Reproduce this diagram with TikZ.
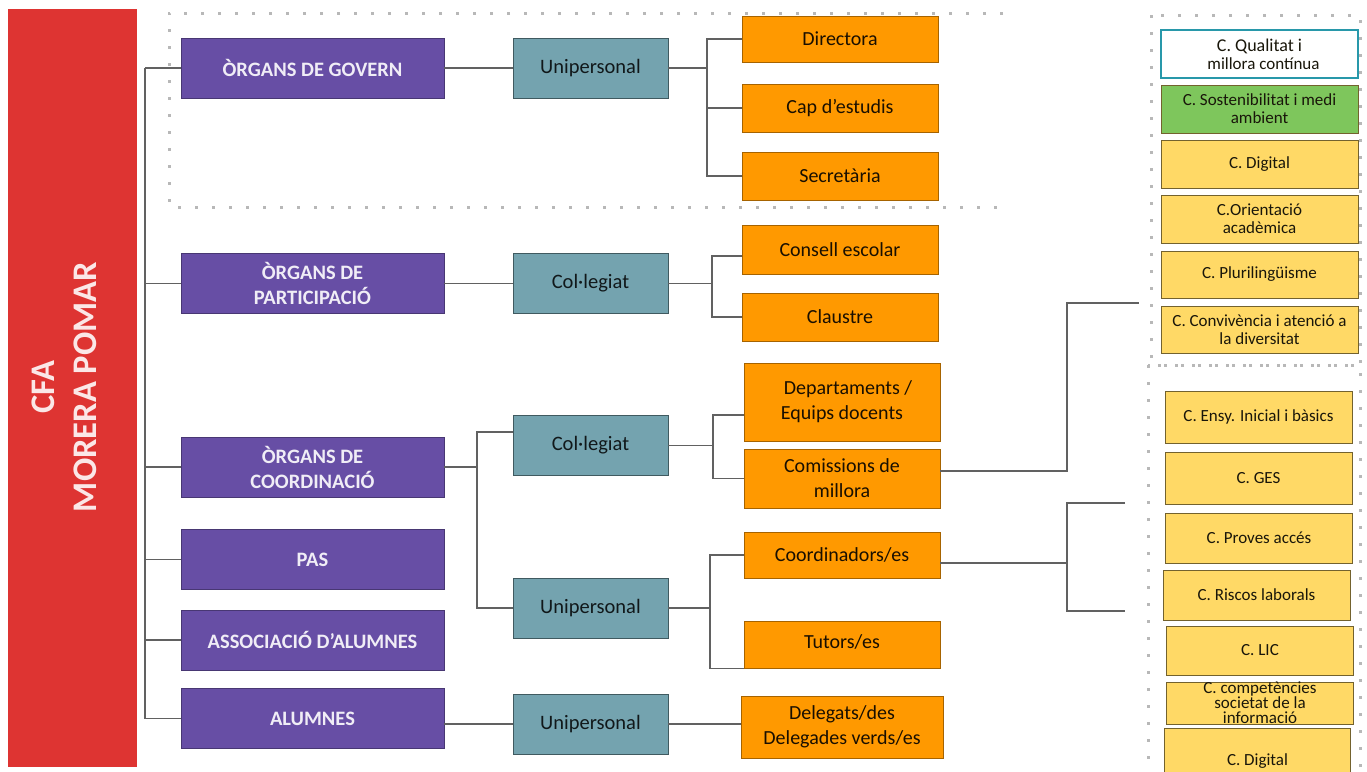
\documentclass[tikz,border=0pt]{standalone}
\usepackage{fontspec}
\setmainfont{Carlito}
\usepackage{xcolor}
\usepackage{tikz}

\definecolor{vermell}{RGB}{222,52,50}
\definecolor{lila}{RGB}{103,78,165}
\definecolor{blauverd}{RGB}{116,163,175}
\definecolor{taronja}{RGB}{255,153,0}
\definecolor{groc}{RGB}{255,217,102}
\definecolor{verd}{RGB}{126,198,92}
\definecolor{turquesa}{RGB}{40,152,170}

\tikzset{
  organ/.style={fill=lila, draw=lila!70!black, line width=0.8pt, text=white!90!lila, font=\bfseries\fontsize{20.5}{25}\selectfont, minimum width=263pt, minimum height=60pt, inner sep=0pt, align=center},
  tipus/.style={fill=blauverd, draw=blauverd!55!black, line width=0.8pt, text=black!85!blauverd, font=\fontsize{20.5}{24}\selectfont, minimum width=155pt, minimum height=60pt, inner sep=0pt},
  carrec/.style={fill=taronja, draw=taronja!65!black, line width=0.8pt, text=black!90!taronja, font=\fontsize{20}{25}\selectfont, minimum width=196pt, inner sep=0pt, align=center},
  comissio/.style={fill=groc, draw=black!55!groc, line width=0.8pt, text=black!90!groc, font=\fontsize{17}{18}\selectfont, minimum width=197pt, minimum height=48pt, inner sep=0pt, align=center},
  linia/.style={draw=black!62, line width=1.3pt},
  puntejat/.style={draw=black!28, line width=3pt, dash pattern=on 3pt off 14pt}
}

\begin{document}
\begin{tikzpicture}[x=1pt, y=-1pt]
\useasboundingbox (0,0) rectangle (1367,771);
\clip (0,0) rectangle (1367,771);

% dotted frames
\draw[puntejat] (1003,13) -- (169,13) -- (169,207) -- (1003,207);
\draw[puntejat] (1151,15) rectangle (1360,365);
\draw[puntejat] (1148,365) rectangle (1360,800);

% centre
\node[fill=vermell, minimum width=129pt, minimum height=758pt, inner sep=0pt] (cfa) at (72.5,388) {};
\node[rotate=90, text=white!88!vermell, font=\bfseries\fontsize{34.5}{42}\selectfont, align=center] (nomcentre) at (64,387) {CFA\\MORERA POMAR};

% organs
\node[organ] (govern) at (312.5,68) {ÒRGANS DE GOVERN};
\node[organ] (participacio) at (312.5,283.5) {ÒRGANS DE\\PARTICIPACIÓ};
\node[organ] (coordinacio) at (312.5,467) {ÒRGANS DE\\COORDINACIÓ};
\node[organ] (pas) at (312.5,559.5) {PAS};
\node[organ] (associacio) at (312.5,640) {ASSOCIACIÓ D’ALUMNES};
\node[organ] (alumnes) at (312.5,718.5) {ALUMNES};

% unipersonal / collegiat
\node[tipus] (unip1) at (590.5,68) {Unipersonal};
\node[tipus] (col2) at (590.5,283.5) {Col·legiat};
\node[tipus] (col3) at (590.5,445.5) {Col·legiat};
\node[tipus] (unip4) at (590.5,608) {Unipersonal};
\node[tipus] (unip5) at (590.5,724) {Unipersonal};

% carrecs
\node[carrec, minimum height=46pt] (directora) at (840,39) {Directora};
\node[carrec, minimum height=48pt] (cap) at (840,108) {Cap d’estudis};
\node[carrec, minimum height=48pt] (secretaria) at (840,176) {Secretària};
\node[carrec, minimum height=49pt] (consell) at (840,249.5) {Consell escolar};
\node[carrec, minimum height=48pt] (claustre) at (840,317) {Claustre};
\node[carrec, minimum height=78pt] (departaments) at (842,402) {\hspace*{12pt}Departaments /\\Equips docents};
\node[carrec, minimum height=59pt] (comissions) at (842,478.5) {Comissions de\\millora};
\node[carrec, minimum height=46pt] (coordinadors) at (842,555) {Coordinadors/es};
\node[carrec, minimum height=47pt] (tutors) at (842,644.5) {\raisebox{6pt}{Tutors/es}};
\node[carrec, minimum width=202pt, minimum height=62pt] (delegats) at (842,727) {Delegats/des\\Delegades verds/es};

% comissions (dalt)
\node[comissio, fill=white, draw=turquesa, line width=2pt] (qualitat) at (1259.5,54) {{\fontsize{18}{18}\selectfont C. Qualitat i}\\\hspace*{8pt}millora contínua};
\node[comissio, fill=verd] (sostenibilitat) at (1259.5,109) {C. Sostenibilitat i medi\\ambient};
\node[comissio] (digital) at (1259.5,164) {\raisebox{-9pt}{C. Digital}};
\node[comissio] (orientacio) at (1259.5,219) {C.Orientació\\acadèmica};
\node[comissio, minimum height=47pt] (plurilinguisme) at (1259.5,274.5) {C. Plurilingüisme};
\node[comissio, minimum height=47pt] (convivencia) at (1259.5,329.5) {C. Convivència i atenció a\\la diversitat};

% coordinacions (baix)
\node[comissio, minimum width=187pt, minimum height=52pt] (ensy) at (1258.5,417) {C. Ensy. Inicial i bàsics};
\node[comissio, minimum width=187pt, minimum height=52pt] (ges) at (1258.5,478) {C. GES};
\node[comissio, minimum width=187pt, minimum height=50pt] (proves) at (1259,538) {C. Proves accés};
\node[comissio, minimum width=187pt, minimum height=50pt] (riscos) at (1256.5,595) {C. Riscos laborals};
\node[comissio, minimum width=187pt, minimum height=49pt] (lic) at (1260,650.5) {C. LIC};
\node[comissio, minimum width=187pt, minimum height=42pt, font=\fontsize{17}{15}\selectfont] (competencies) at (1260,703) {C. competències\\societat de la\\informació};
\node[comissio, minimum width=186pt, minimum height=64pt] (digitalb) at (1257.5,760) {\raisebox{-13pt}{C. Digital}};

% trunk
\coordinate (troncdalt) at (145,68);
\coordinate (troncbaix) at (145,718.5);
\draw[linia] (troncdalt) -- (troncbaix);
\foreach \n in {govern,participacio,coordinacio,pas,associacio,alumnes}
  \draw[linia] (\n.west) -- (\n.west -| troncdalt);

% organs de govern
\draw[linia] (govern) -- (unip1);
\coordinate (bus1) at (707,68);
\draw[linia] (unip1.east) -- (bus1);
\draw[linia] (directora.west) -| (bus1) |- (secretaria.west);
\draw[linia] (cap.west) -- (cap.west -| bus1);

% organs de participacio
\draw[linia] (participacio) -- (col2);
\coordinate (bus2) at (712,283.5);
\draw[linia] (col2.east) -- (bus2);
\draw[linia] ([yshift=-6.5pt]consell.west) -| (bus2) |- (claustre.west);

% organs de coordinacio
\coordinate (bus3) at (477,467);
\draw[linia] (coordinacio.east) -- (bus3);
\draw[linia] ([yshift=13.5pt]col3.west) -| (bus3) |- (unip4.west);
\coordinate (bus4) at (713,445.5);
\draw[linia] (col3.east) -- (bus4);
\draw[linia] ([yshift=-13pt]departaments.west) -| (bus4) |- (comissions.west);
\coordinate (bus5) at (710,608);
\draw[linia] (unip4.east) -- (bus5);
\draw[linia] (coordinadors.west) -| (bus5) |- (tutors.south west);

% alumnes
\draw[linia] (unip5.west) -- (unip5.west -| alumnes.east);
\draw[linia] (unip5.east) -- (unip5.east -| delegats.west);

% cap a les comissions
\coordinate (bus6) at (1067,303);
\coordinate (fi1) at (1139,303);
\draw[linia] ([yshift=7.5pt]comissions.east) -| (bus6) -- (fi1);
\coordinate (bus7) at (1067,563);
\coordinate (fi2) at (1125,503);
\coordinate (fi3) at (1125,611);
\draw[linia] ([yshift=-8pt]coordinadors.east) -- (bus7);
\draw[linia] (fi2) -| (bus7) |- (fi3);
\end{tikzpicture}
\end{document}
